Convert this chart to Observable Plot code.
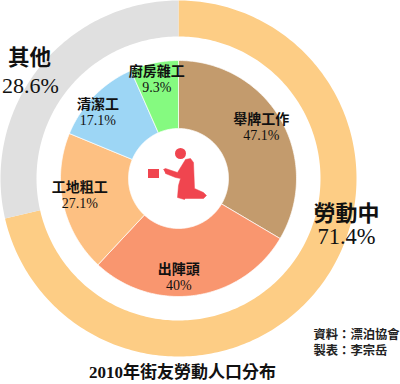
<!DOCTYPE html>
<html><head><meta charset="utf-8">
<script src="https://cdn.jsdelivr.net/npm/d3@7"></script>
<script src="https://cdn.jsdelivr.net/npm/@observablehq/plot@0.6"></script>
<style>html,body{margin:0;padding:0;background:#fff}svg{display:block}</style>
</head><body><div id="c"></div>
<script>
const ringNames = ["勞動中", "其他"];
const ringValues = [71.4, 28.6];
const ringColors = ["#fdcd85", "#e0e0e0"];
const jobNames = ["舉牌工作", "出陣頭", "工地粗工", "清潔工", "廚房雜工"];
const jobValues = [47.1, 40, 27.1, 17.1, 9.3];
const jobLabels = ["47.1%", "40%", "27.1%", "17.1%", "9.3%"];
const jobColors = ["#c39b6d", "#f9966f", "#fdc082", "#9dd6f5", "#85fa80"];
const title = "2010年街友勞動人口分布";
const credits = ["資料：漂泊協會", "製表：李宗岳"];

const cx = 178, cy = 178;
const serif = "'Liberation Serif','Noto Sans CJK TC',serif";

function sector(key, a0, a1, r0, r1) {
  const pts = [];
  const n = Math.max(2, Math.ceil((a1 - a0) * 180 / Math.PI));
  const at = (a, r) => ({key, x: cx + r * Math.sin(a), y: cy - r * Math.cos(a)});
  for (let i = 0; i <= n; i++) pts.push(at(a0 + (a1 - a0) * i / n, r1));
  for (let i = n; i >= 0; i--) pts.push(at(a0 + (a1 - a0) * i / n, r0));
  pts.push(pts[0]);
  return pts;
}
function arcsOf(names, values) {
  const total = d3.sum(values);
  let acc = 0;
  return names.map((name, i) => {
    const a0 = acc / total * 2 * Math.PI;
    acc += values[i];
    return {name, a0, a1: acc / total * 2 * Math.PI};
  });
}
const ringArcs = arcsOf(ringNames, ringValues);
const jobArcs = arcsOf(jobNames, jobValues);
const ringPts = ringArcs.flatMap(d => sector(d.name, d.a0, d.a1, 142, 178));
const jobPts = jobArcs.flatMap(d => sector(d.name, d.a0, d.a1, 50, 118));

// label nudges around each slice's centroid
const nudgeX = [-4, -14, -1, -9, -1];
const nudgeY = [-1, 0, -4, 4, -1];
const labelR = 100;
const jobText = jobArcs.map((d, i) => {
  const m = (d.a0 + d.a1) / 2;
  return {
    name: d.name, pct: jobLabels[i],
    x: cx + labelR * Math.sin(m) + nudgeX[i],
    y: cy - labelR * Math.cos(m) + nudgeY[i]
  };
});

// worker pictogram
const iconBody = [[163,169],[165,168],[177,172],[185,159],[190,158],[193,162],[194,188],[203,192],[206,195],[203,198],[185,198],[184,199],[177,197],[178,185],[180,178],[175,177],[165,173]]
  .map(([x, y]) => ({x, y}));
const iconHead = [{x: 180, y: 153}];
const iconBox = [{x1: 148, x2: 159, y1: 169, y2: 178}];
const red = "#f0454f";

const chart = Plot.plot({
  width: 400, height: 384,
  margin: 0,
  x: {domain: [0, 400], axis: null},
  y: {domain: [384, 0], axis: null},
  r: {type: "identity"},
  color: {domain: [...ringNames, ...jobNames], range: [...ringColors, ...jobColors]},
  style: {background: "#fff"},
  marks: [
    Plot.line(ringPts, {x: "x", y: "y", z: "key", fill: "key", stroke: "none"}),
    Plot.line(jobPts, {x: "x", y: "y", z: "key", fill: "key", stroke: "#fff", strokeWidth: 0.7}),
    Plot.line(iconBody, {x: "x", y: "y", fill: red, stroke: red, strokeWidth: 0.5}),
    Plot.dot(iconHead, {x: "x", y: "y", r: 5.5, fill: red}),
    Plot.rect(iconBox, {x1: "x1", x2: "x2", y1: "y1", y2: "y2", fill: red}),
    Plot.text(jobText, {x: "x", y: d => d.y - 8, text: "name", fontFamily: serif, fontWeight: "bold", fontSize: 14, fill: "#111"}),
    Plot.text(jobText, {x: "x", y: d => d.y + 8, text: "pct", fontFamily: serif, fontSize: 14, fill: "#111"}),
    Plot.text([ringNames[1]], {x: 29, y: 58, text: d => d, fontFamily: serif, fontWeight: "bold", fontSize: 21.5, fill: "#111"}),
    Plot.text([ringValues[1] + "%"], {x: 30, y: 85, text: d => d, fontFamily: serif, fontSize: 22, fill: "#111"}),
    Plot.text([ringNames[0]], {x: 346, y: 213, text: d => d, fontFamily: serif, fontWeight: "bold", fontSize: 22, fill: "#111"}),
    Plot.text([ringValues[0] + "%"], {x: 346, y: 236, text: d => d, fontFamily: serif, fontSize: 22.5, fill: "#111"}),
    Plot.text(credits, {x: 313, y: (d, i) => 335 + i * 16, text: d => d, textAnchor: "start", fontFamily: serif, fontWeight: "bold", fontSize: 12.3, fill: "#222"}),
    Plot.text([title], {x: 182, y: 372, text: d => d, fontFamily: serif, fontWeight: "bold", fontSize: 17, fill: "#111"})
  ]
});
document.getElementById("c").append(chart);
</script></body></html>
